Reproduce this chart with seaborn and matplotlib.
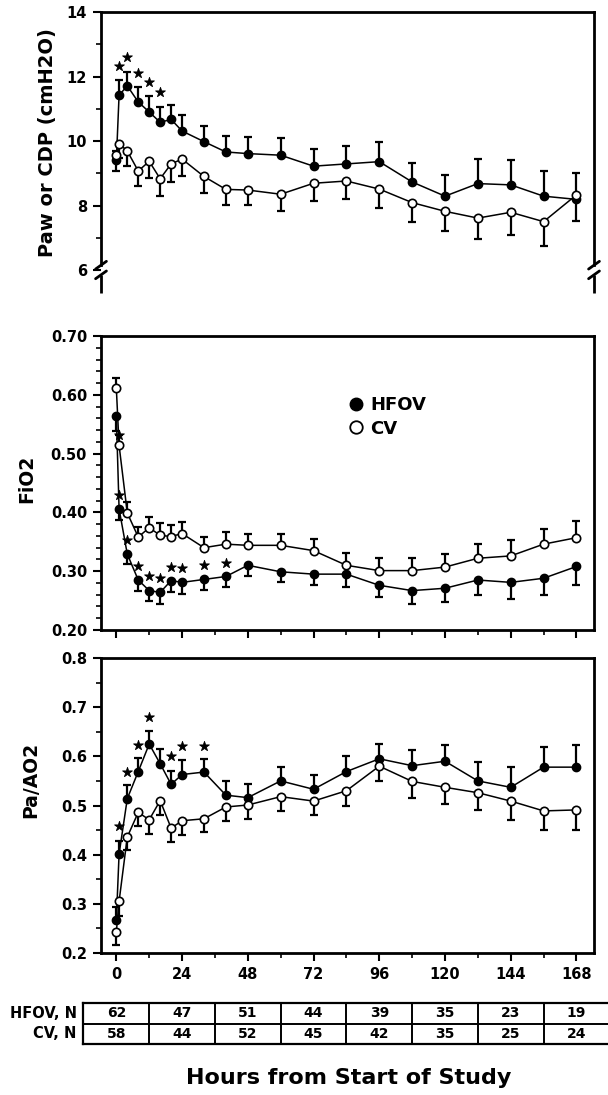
import numpy as np
import pandas as pd
import matplotlib
matplotlib.use("Agg")
import matplotlib.pyplot as plt
from matplotlib.lines import Line2D
from matplotlib.ticker import MultipleLocator
import matplotlib.transforms as mtransforms
import seaborn as sns

# ---------------- data ----------------
hours = [0, 1, 4, 8, 12, 16, 20, 24, 32, 40, 48, 60, 72, 84, 96, 108, 120, 132, 144, 156, 168]

paw_hfov = [9.40, 11.42, 11.71, 11.21, 10.90, 10.58, 10.67, 10.31, 9.98, 9.66, 9.61, 9.56, 9.22, 9.29,
            9.36, 8.73, 8.29, 8.68, 8.64, 8.29, 8.19]
paw_hfov_se = [0.30, 0.47, 0.44, 0.45, 0.49, 0.48, 0.46, 0.51, 0.48, 0.49, 0.51, 0.53, 0.52, 0.56,
               0.60, 0.60, 0.65, 0.77, 0.78, 0.78, 0.82]
paw_cv = [9.58, 9.92, 9.69, 9.07, 9.37, 8.83, 9.29, 9.44, 8.90, 8.50, 8.48, 8.35, 8.69, 8.76,
          8.51, 8.09, 7.82, 7.61, 7.79, 7.50, 8.33]
paw_cv_se = [0.50, 0.45, 0.47, 0.46, 0.51, 0.53, 0.55, 0.53, 0.50, 0.49, 0.47, 0.51, 0.56, 0.57,
             0.59, 0.61, 0.62, 0.66, 0.70, 0.76, 0.80]
paw_star_hours = [1, 4, 8, 12, 16]
paw_star_y = [12.33, 12.60, 12.12, 11.84, 11.52]

fio2_hfov = [0.564, 0.406, 0.329, 0.285, 0.267, 0.264, 0.284, 0.281, 0.286, 0.291, 0.310, 0.299, 0.295,
             0.295, 0.276, 0.267, 0.271, 0.285, 0.281, 0.288, 0.308]
fio2_hfov_se = [0.025, 0.019, 0.016, 0.018, 0.018, 0.019, 0.020, 0.019, 0.018, 0.018, 0.019, 0.018, 0.019,
                0.022, 0.020, 0.022, 0.023, 0.026, 0.029, 0.028, 0.032]
fio2_cv = [0.611, 0.514, 0.399, 0.358, 0.374, 0.361, 0.359, 0.364, 0.340, 0.346, 0.344, 0.344, 0.335,
           0.310, 0.301, 0.301, 0.307, 0.322, 0.326, 0.346, 0.357]
fio2_cv_se = [0.018, 0.018, 0.018, 0.018, 0.019, 0.021, 0.020, 0.020, 0.018, 0.020, 0.019, 0.020, 0.020,
              0.021, 0.022, 0.022, 0.023, 0.025, 0.027, 0.026, 0.029]
fio2_star_hours = [1, 1, 4, 8, 12, 16, 20, 24, 32, 40]
fio2_star_y = [0.532, 0.429, 0.353, 0.308, 0.291, 0.288, 0.307, 0.306, 0.310, 0.314]

pa_hfov = [0.267, 0.401, 0.514, 0.569, 0.625, 0.585, 0.543, 0.563, 0.568, 0.521, 0.516, 0.550, 0.533,
           0.569, 0.595, 0.581, 0.590, 0.550, 0.537, 0.578, 0.578]
pa_hfov_se = [0.027, 0.027, 0.027, 0.027, 0.027, 0.029, 0.028, 0.029, 0.027, 0.028, 0.028, 0.029, 0.029,
              0.031, 0.030, 0.032, 0.033, 0.039, 0.041, 0.040, 0.045]
pa_cv = [0.243, 0.305, 0.436, 0.486, 0.471, 0.510, 0.454, 0.469, 0.473, 0.497, 0.501, 0.518, 0.509,
         0.530, 0.580, 0.549, 0.537, 0.526, 0.509, 0.489, 0.491]
pa_cv_se = [0.027, 0.030, 0.027, 0.028, 0.028, 0.030, 0.029, 0.029, 0.027, 0.029, 0.029, 0.030, 0.029,
            0.031, 0.030, 0.033, 0.034, 0.036, 0.039, 0.038, 0.040]
pa_star_hours = [1, 4, 8, 12, 20, 24, 32]
pa_star_y = [0.458, 0.569, 0.624, 0.680, 0.601, 0.621, 0.622]

table_hours = [0, 24, 48, 72, 96, 120, 144, 168]
n_hfov = [62, 47, 51, 44, 39, 35, 23, 19]
n_cv = [58, 44, 52, 45, 42, 35, 25, 24]

# ---------------- style ----------------
sns.set_style("ticks")
plt.rcParams['font.family'] = ['DejaVu Sans']
plt.rcParams['font.weight'] = 'bold'
for key in ('text.color', 'axes.labelcolor', 'xtick.color', 'ytick.color', 'axes.edgecolor'):
    plt.rcParams[key] = 'black'

W, H = 608, 1095
fig = plt.figure(figsize=(W / 100, H / 100), dpi=100)


def pos(l, t, r, b):
    return [l / W, 1 - b / H, (r - l) / W, (b - t) / H]


XLIM = (-5.6, 174.4)
ax1 = fig.add_axes(pos(101, 12, 594, 292.6))
ax2 = fig.add_axes(pos(101, 336, 594, 630))
ax3 = fig.add_axes(pos(101, 658, 594, 953))
axt = fig.add_axes(pos(83, 1003, 608, 1044))

TICKFONT = dict(family='DejaVu Sans', weight='bold', size=10.5)


def draw_panel(ax, hfov, hfov_se, cv, cv_se, hfov_up, star_h, star_y):
    z = np.zeros(len(hours))
    hse = np.array(hfov_se)
    cse = np.array(cv_se)
    h_err = [z, hse] if hfov_up else [hse, z]
    c_err = [cse, z] if hfov_up else [z, cse]
    ax.errorbar(hours, hfov, yerr=h_err, fmt='none', ecolor='black', elinewidth=1.6,
                capsize=2.6, capthick=1.6, zorder=2)
    ax.errorbar(hours, cv, yerr=c_err, fmt='none', ecolor='black', elinewidth=1.6,
                capsize=2.6, capthick=1.6, zorder=2)
    df = pd.DataFrame({'hour': hours, 'hfov': hfov, 'cv': cv})
    sns.lineplot(data=df, x='hour', y='hfov', ax=ax, color='black', lw=1.1, marker='o',
                 markersize=6, markerfacecolor='black', markeredgecolor='black',
                 markeredgewidth=1.0, zorder=3)
    sns.lineplot(data=df, x='hour', y='cv', ax=ax, color='black', lw=1.1, marker='o',
                 markersize=6, markerfacecolor='white', markeredgecolor='black',
                 markeredgewidth=1.2, zorder=4)
    sdf = pd.DataFrame({'hour': star_h, 'y': star_y})
    sns.scatterplot(data=sdf, x='hour', y='y', ax=ax, marker='*', s=55, color='black',
                    edgecolor='black', linewidth=0.6, zorder=5)
    ax.set_xlim(*XLIM)
    ax.set_xlabel('')
    for s in ax.spines.values():
        s.set_linewidth(2.0)
        s.set_visible(True)
        s.set_color('black')
    ax.tick_params(axis='y', which='major', direction='out', length=6, width=1.5, pad=4,
                   right=False, left=True, colors='black')
    ax.tick_params(axis='y', which='minor', direction='out', length=3.5, width=1.2,
                   right=False, left=True, colors='black')
    ax.tick_params(axis='x', which='major', direction='out', length=6, width=1.5, top=False,
                   colors='black')
    ax.tick_params(axis='x', which='minor', direction='out', length=3.5, width=1.2, top=False,
                   colors='black')
    ax.xaxis.set_major_locator(MultipleLocator(24))
    ax.xaxis.set_minor_locator(MultipleLocator(12))


# ---- top panel ----
draw_panel(ax1, paw_hfov, paw_hfov_se, paw_cv, paw_cv_se, True, paw_star_hours, paw_star_y)
ax1.set_ylim(5.3, 14)
ax1.set_yticks([6, 8, 10, 12, 14])
ax1.yaxis.set_minor_locator(MultipleLocator(1))
ax1.set_yticklabels(['6', '8', '10', '12', '14'], fontdict=TICKFONT)
ax1.spines['bottom'].set_visible(False)
ax1.tick_params(axis='x', which='both', bottom=False, labelbottom=False)
ax1.spines['left'].set_bounds(6.15, 14)
ax1.spines['right'].set_bounds(6.15, 14)
trans = mtransforms.blended_transform_factory(ax1.transAxes, ax1.transData)
for xa in (0, 1):
    ax1.plot([xa, xa], [5.3, 5.85], transform=trans, color='black', lw=2.0, clip_on=False,
             solid_capstyle='butt')
    for yb in (6.15, 5.85):
        ax1.plot([xa - 0.011, xa + 0.011], [yb - 0.12, yb + 0.12], transform=trans,
                 color='black', lw=2.0, clip_on=False)
ax1.set_ylabel('Paw or CDP (cmH2O)', fontsize=14, fontweight='bold', color='black')
ax1.yaxis.set_label_coords(-0.089, 0.533)

# ---- middle panel ----
draw_panel(ax2, fio2_hfov, fio2_hfov_se, fio2_cv, fio2_cv_se, False, fio2_star_hours, fio2_star_y)
ax2.set_ylim(0.20, 0.70)
ax2.set_yticks([0.2, 0.3, 0.4, 0.5, 0.6, 0.7])
ax2.set_yticklabels(['0.20', '0.30', '0.40', '0.50', '0.60', '0.70'], fontdict=TICKFONT)
ax2.yaxis.set_minor_locator(MultipleLocator(0.02))
ax2.tick_params(axis='x', which='both', labelbottom=False)
ax2.set_ylabel('FiO2', fontsize=13.5, fontweight='bold', color='black')
ax2.yaxis.set_label_coords(-0.132, 0.514)
handles = [Line2D([], [], ls='none', marker='o', markersize=9, markerfacecolor='black',
                  markeredgecolor='black'),
           Line2D([], [], ls='none', marker='o', markersize=9, markerfacecolor='white',
                  markeredgecolor='black', markeredgewidth=1.3)]
ax2.legend(handles, ['HFOV', 'CV'], loc='upper left', bbox_to_anchor=(0.465, 0.85),
           frameon=False, handlelength=1.0, handletextpad=0.3, labelspacing=0.3,
           prop=dict(family='DejaVu Sans', weight='bold', size=13), labelcolor='black')

# ---- bottom panel ----
draw_panel(ax3, pa_hfov, pa_hfov_se, pa_cv, pa_cv_se, True, pa_star_hours, pa_star_y)
ax3.set_ylim(0.2, 0.8)
ax3.set_yticks([0.2, 0.3, 0.4, 0.5, 0.6, 0.7, 0.8])
ax3.set_yticklabels(['0.2', '0.3', '0.4', '0.5', '0.6', '0.7', '0.8'], fontdict=TICKFONT)
ax3.yaxis.set_minor_locator(MultipleLocator(0.05))
ax3.set_xticks(table_hours)
ax3.set_xticklabels([str(h) for h in table_hours], fontdict=TICKFONT)
ax3.tick_params(axis='x', which='major', pad=4)
ax3.set_ylabel('Pa/AO2', fontsize=13.5, fontweight='bold', color='black')
ax3.yaxis.set_label_coords(-0.124, 0.586)

# ---- N table ----
axt.set_xlim(-12.17, 179.5)
axt.set_ylim(0, 2)
axt.set_xticks([])
axt.set_yticks([])
for k in ('top', 'bottom', 'left'):
    axt.spines[k].set_linewidth(1.6)
    axt.spines[k].set_color('black')
axt.spines['right'].set_visible(False)
axt.axhline(1, color='black', lw=1.4)
axt.vlines([12 + 24 * k for k in range(7)], 0, 2, color='black', lw=1.4)
for h, a, b in zip(table_hours, n_hfov, n_cv):
    axt.text(h, 1.5, str(a), ha='center', va='center', fontsize=10, fontweight='bold')
    axt.text(h, 0.5, str(b), ha='center', va='center', fontsize=10, fontweight='bold')
axt.text(-0.012, 0.75, 'HFOV, N', transform=axt.transAxes, ha='right', va='center',
         fontsize=10.5, fontweight='bold')
axt.text(-0.012, 0.25, 'CV, N', transform=axt.transAxes, ha='right', va='center',
         fontsize=10.5, fontweight='bold')

fig.text(349 / W, 1 - 1078 / H, 'Hours from Start of Study', ha='center', va='center',
         fontsize=16, fontweight='bold')

fig.savefig('out.png', dpi=100, facecolor='white')
